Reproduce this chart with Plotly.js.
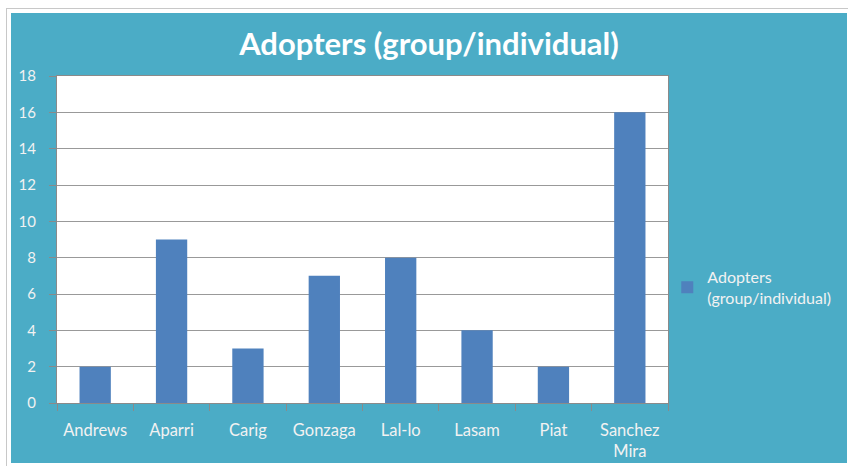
<!DOCTYPE html>
<html>
<head>
<meta charset="utf-8">
<script src="https://cdn.plot.ly/plotly-3.0.1.min.js"></script>
<style>
  html, body { margin: 0; padding: 0; background: #ffffff; width: 848px; height: 466px; overflow: hidden; }
  #frame { position: absolute; left: 6px; top: 8px; width: 842px; height: 458px; border-top: 1px solid #c8c8c8; border-left: 1px solid #c8c8c8; box-sizing: border-box; }
  #chart { position: absolute; left: 11px; top: 13px; width: 836px; height: 450px; }
</style>
</head>
<body>
<div id="frame"></div>
<div id="chart"></div>
<script>
const categories = ["Andrews", "Aparri", "Carig", "Gonzaga", "Lal-lo", "Lasam", "Piat", "Sanchez<br>Mira"];
const adopters = [2, 9, 3, 7, 8, 4, 2, 16];
const seriesName = "Adopters<br>(group/individual)";
const chartTitle = "Adopters (group/individual)";
const yTicks = [0, 2, 4, 6, 8, 10, 12, 14, 16, 18];

const trace = {
  type: "bar",
  x: categories,
  y: adopters,
  name: seriesName,
  marker: { color: "#4F81BD", line: { width: 0 } },
  showlegend: true,
  hoverinfo: "x+y"
};

const layout = {
  width: 836,
  height: 450,
  paper_bgcolor: "#4BACC6",
  plot_bgcolor: "#ffffff",
  margin: { l: 46, r: 179, t: 63, b: 60, autoexpand: false },
  bargap: 0.59,
  font: { family: "Lato, 'DejaVu Sans', sans-serif", color: "#f2f2f2", size: 15 },
  title: {
    text: "<b>" + chartTitle + "</b>",
    font: { family: "Lato, sans-serif", size: 31, color: "#ffffff" },
    x: 0.5, xanchor: "center", xref: "container",
    y: 1, yref: "container", yanchor: "top", pad: { t: 20 }
  },
  xaxis: {
    type: "category",
    showgrid: false,
    showline: true, linecolor: "#8a8a8a", linewidth: 1,
    mirror: true,
    ticks: "outside", ticklen: 7, tickcolor: "#8a8a8a", tickwidth: 1,
    tickson: "boundaries",
    ticklabelstandoff: 12,
    tickfont: { size: 16.5, color: "#f2f2f2" },
    zeroline: false,
    fixedrange: true
  },
  yaxis: {
    range: [0, 18],
    tickvals: yTicks,
    ticktext: yTicks.map(String),
    showgrid: true, gridcolor: "#999999", gridwidth: 1,
    showline: true, linecolor: "#8a8a8a", linewidth: 1,
    mirror: true,
    ticks: "outside", ticklen: 7, tickcolor: "#8a8a8a", tickwidth: 1,
    ticklabelstandoff: 10,
    tickfont: { size: 15, color: "#f2f2f2" },
    zeroline: false,
    fixedrange: true
  },
  legend: {
    xref: "container", x: 0.785, xanchor: "left",
    yref: "container", y: 0.39, yanchor: "middle",
    bgcolor: "rgba(0,0,0,0)",
    font: { size: 16, color: "#f2f2f2" },
    itemwidth: 30,
    tracegroupgap: 0
  }
};

Plotly.newPlot("chart", [trace], layout, { displayModeBar: false, staticPlot: true });
</script>
</body>
</html>
